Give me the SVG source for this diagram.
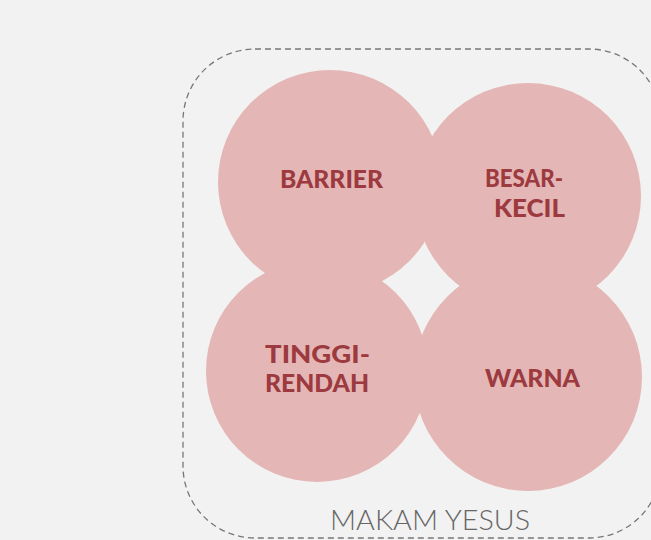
<svg xmlns="http://www.w3.org/2000/svg" width="651" height="540" viewBox="0 0 651 540">
<style>
.c{fill:#e4b6b5}
.t{font-family:Lato,"Liberation Sans",sans-serif;font-weight:900;font-size:24px;fill:#9c3a3f}
.lbl{font-family:Lato,"Liberation Sans",sans-serif;font-weight:300;font-size:27px;fill:#666}
</style>
<rect width="651" height="540" fill="#f2f2f2"/>
<g id="container">
<rect x="183" y="49" width="478" height="489" rx="72" fill="none" stroke="#777" stroke-width="1.3" stroke-dasharray="6 4"/>
<text class="lbl" x="330" y="530" textLength="200" lengthAdjust="spacingAndGlyphs">MAKAM YESUS</text>
</g>
<g id="barrier"><circle class="c" cx="330" cy="182" r="112"/></g>
<g id="besar"><circle class="c" cx="528" cy="196" r="113"/></g>
<g id="tinggi"><circle class="c" cx="317" cy="371" r="111"/></g>
<g id="warna"><circle class="c" cx="528" cy="377" r="114"/></g>
<g id="labels">
<text class="t" x="280" y="188" textLength="103" lengthAdjust="spacingAndGlyphs">BARRIER</text>
<text class="t" x="485" y="187" textLength="78" lengthAdjust="spacingAndGlyphs">BESAR-</text>
<text class="t" x="494" y="217" textLength="71" lengthAdjust="spacingAndGlyphs">KECIL</text>
<text class="t" x="265" y="363" textLength="105" lengthAdjust="spacingAndGlyphs">TINGGI-</text>
<text class="t" x="265" y="392" textLength="104" lengthAdjust="spacingAndGlyphs">RENDAH</text>
<text class="t" x="485" y="387" textLength="95" lengthAdjust="spacingAndGlyphs">WARNA</text>
</g>
<g id="connectors"/>
</svg>
